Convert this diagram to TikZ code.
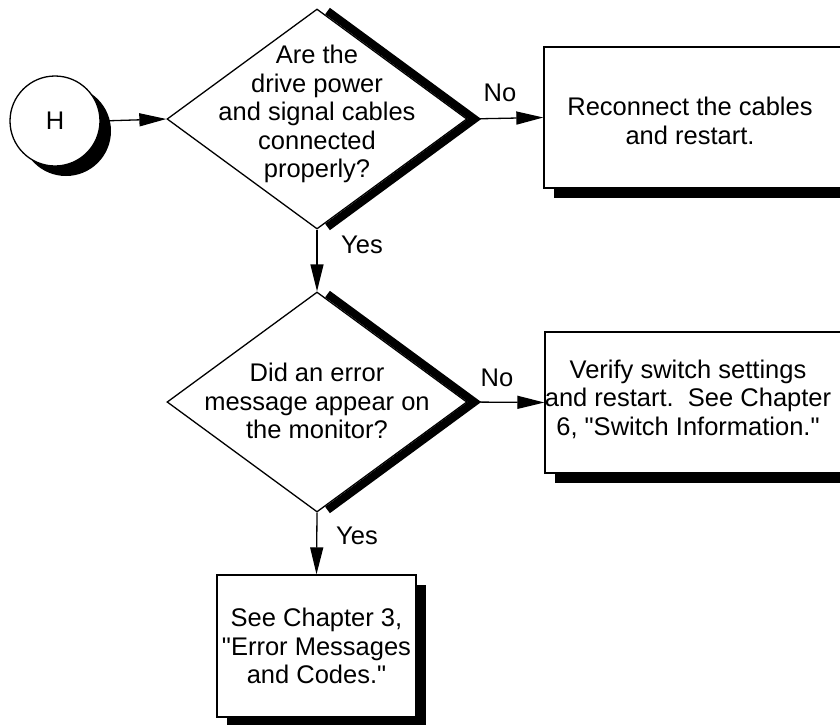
\documentclass[tikz,border=0pt]{standalone}
\usepackage{fontspec}
\setmainfont{Liberation Sans}[Ligatures=TeXOff]
\usetikzlibrary{shapes.geometric,arrows.meta,calc,shadows}
\begin{document}
\begin{tikzpicture}[x=1pt,y=-1pt,
  base/.style={draw=black, line width=1.3pt, fill=white, inner sep=0pt},
  decision/.style={base, diamond, minimum width=300pt, minimum height=220pt},
  boxshadow/.style={drop shadow={opacity=1, fill=black, shadow xshift=10pt, shadow yshift=-10pt}},
  procbox/.style={base, rectangle, boxshadow},
  txt/.style={font=\fontsize{25.5}{28.5}\selectfont, align=center, inner sep=0pt},
  arr/.style={line width=1.3pt, -{Triangle[length=27pt,width=13pt]}},
  thick shadow/.style={line width=8pt, line join=miter, line cap=butt}
]
\useasboundingbox (0,0) rectangle (840,724);
\clip (0,0) rectangle (840,724);

% start circle
\node[base, circle, minimum size=90pt, drop shadow={opacity=1, fill=black, shadow xshift=11pt, shadow yshift=-10pt}, txt] (h) at (55,121) {H};

% decisions
\node[decision] (d1) at (317,119) {};
\node[txt] (q1) at (317,114) {Are the\\drive power\\and signal cables\\connected\\properly?};
\node[decision] (d2) at (317,402) {};
\node[txt] (q2) at (317,401) {Did an error\\message appear on\\the monitor?};

% process boxes
\node[procbox, minimum width=306pt, minimum height=141pt] (b1) at (697,117.5) {};
\node[txt] (t1) at (690,121) {Reconnect the cables\\and restart.};
\node[procbox, minimum width=305pt, minimum height=141pt] (b2) at (697.5,402.5) {};
\node[txt] (t2) at (688,399) {Verify switch settings\\and restart.\ \ See Chapter\\6, "Switch Information."};
\node[procbox, minimum width=199pt, minimum height=142pt, txt] (b3) at (316.5,646) {See Chapter 3,\\"Error Messages\\and Codes."};

% diamond thick edges
\draw[thick shadow] ($(d1.north)+(10.5,2.7)$) -- ($(d1.east)+(6.8,0)$) -- ($(d1.south)+(10.5,-2.7)$);
\draw[thick shadow] ($(d2.north)+(10.5,2.7)$) -- ($(d2.east)+(6.8,0)$) -- ($(d2.south)+(10.5,-2.7)$);

% connectors
\draw[arr] (h.east) -- (d1.west);
\draw[arr] (d1.east) -- (b1.west);
\draw[arr] (d1.south) -- (d2.north);
\draw[arr] (d2.east) -- (b2.west);
\draw[arr] (d2.south) -- (b3.north);

% labels
\node[txt] (no1) at (500,93) {No};
\node[txt] (yes1) at (362,245) {Yes};
\node[txt] (no2) at (497,378) {No};
\node[txt] (yes2) at (357,536) {Yes};
\end{tikzpicture}
\end{document}
